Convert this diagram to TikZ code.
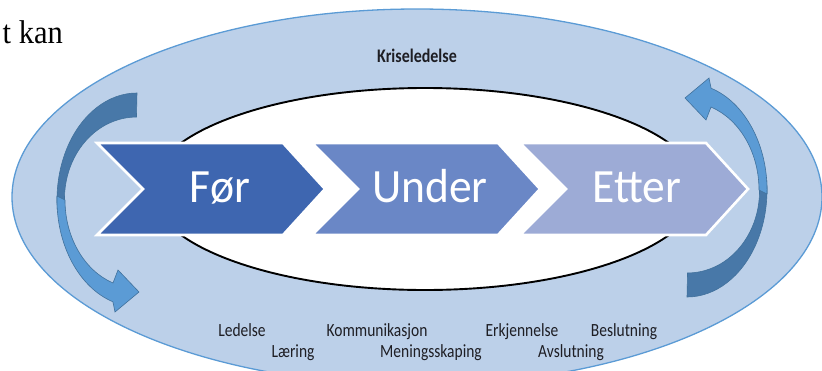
\documentclass[tikz,border=0pt]{standalone}
\usepackage{fontspec}
\setmainfont{Carlito}
\newfontfamily\serifkan{Liberation Serif}
\definecolor{outerfill}{HTML}{BCD0E9}
\definecolor{outeredge}{HTML}{5B9BD5}
\definecolor{arrdark}{HTML}{4878A8}
\definecolor{arrlight}{HTML}{5B9BD5}
\definecolor{arredge}{HTML}{41719C}
\definecolor{cfor}{HTML}{3E66B0}
\definecolor{cunder}{HTML}{6A87C6}
\definecolor{cetter}{HTML}{9DABD6}
\definecolor{txtdark}{HTML}{1E1E24}
\newcommand\ArrowShape{%
  \fill[arrdark, draw=arredge, line width=0.6pt]
    (137,93) arc[start angle=270, end angle=175, x radius=80, y radius=107]
    -- (65,209) arc[start angle=173, end angle=270, x radius=72, y radius=82] -- cycle;
  \fill[arrlight, draw=arredge, line width=0.6pt]
    (57,196) arc[start angle=182, end angle=107.5, x radius=80, y radius=107]
    -- (115,312) -- (139,292) -- (118,270) -- (113,283)
    arc[start angle=109.47, end angle=180, x radius=72, y radius=88] -- cycle;
}
\newcommand\Tall[2]{\scalebox{1}[#1]{#2}}
\tikzset{
  chev/.style={draw=white, line width=2.6pt, line join=miter},
  phase/.style={text=white, font=\fontsize{45.5}{46}\selectfont, anchor=base, inner sep=0pt},
  word/.style={text=txtdark, font=\fontsize{15.5}{16}\selectfont, anchor=base, inner sep=0pt},
}
\begin{document}
\begin{tikzpicture}[x=1pt,y=-1pt]
\useasboundingbox (0,0) rectangle (822,370);
\clip (0,0) rectangle (822,370);
% outer ellipse
\draw[fill=outerfill, draw=outeredge, line width=1.3pt] (417,197) ellipse[x radius=405, y radius=188];
% inner ellipse
\draw[fill=white, draw=black, line width=1.9pt] (425,189) ellipse[x radius=274, y radius=101];
% curved arrows
\ArrowShape
\begin{scope}[rotate around={180:(412,195)}]
\ArrowShape
\end{scope}
% chevrons
\foreach \L/\c in {97/cfor, 312/cunder, 520/cetter}{
  \filldraw[chev, fill=\c] (\L,143) -- (\L+186,143) -- (\L+228,189) -- (\L+186,235) -- (\L,235) -- (\L+46,189) -- cycle;
}
\node[phase] (for) at (220,202) {\Tall{1.05}{Før}};
\node[phase] (under) at (430,202) {\Tall{1.05}{Under}};
\node[phase] (etter) at (637,202) {\Tall{1.05}{Etter}};
% title
\node[text=txtdark, font=\bfseries\fontsize{16}{16}\selectfont, anchor=base, inner sep=0pt] (krise) at (417,62) {\Tall{1.2}{Kriseledelse}};
% bottom words
\node[word] (w1) at (242,336) {\Tall{1.2}{Ledelse}};
\node[word] (w2) at (377,336) {\Tall{1.2}{Kommunikasjon}};
\node[word] (w3) at (522,336) {\Tall{1.2}{Erkjennelse}};
\node[word] (w4) at (624,336) {\Tall{1.2}{Beslutning}};
\node[word] (w5) at (293,357) {\Tall{1.2}{Læring}};
\node[word] (w6) at (431,357) {\Tall{1.2}{Meningsskaping}};
\node[word] (w7) at (571,357) {\Tall{1.2}{Avslutning}};
% stray text
\node[anchor=base east, inner sep=0pt, font=\serifkan\fontsize{30.5}{31}\selectfont] (tkan) at (63,43) {\Tall{1.08}{t kan}};
\end{tikzpicture}
\end{document}
